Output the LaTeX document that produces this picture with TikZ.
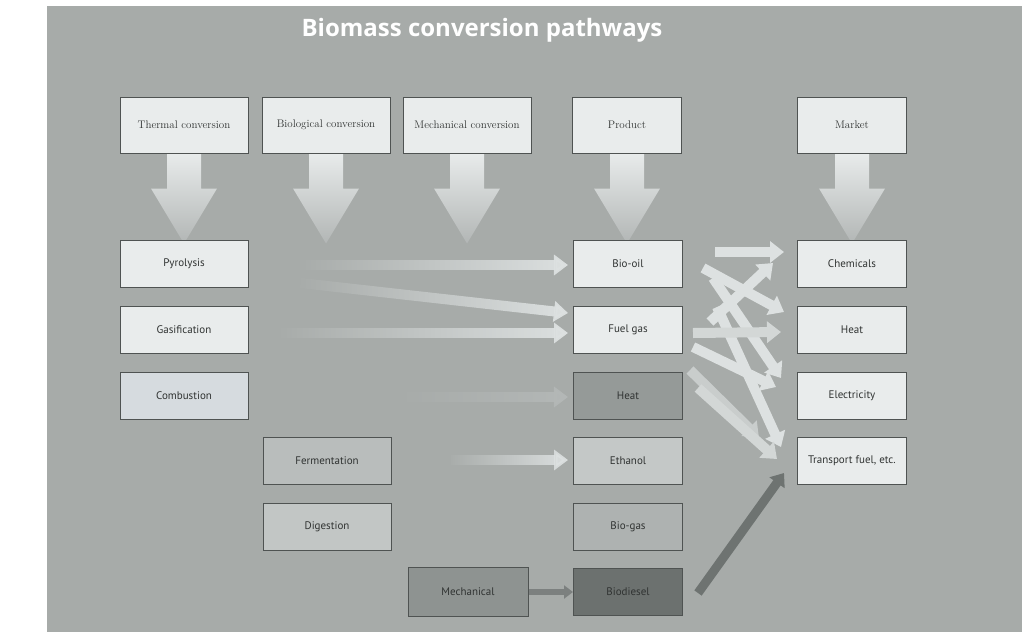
\documentclass[tikz,border=0pt]{standalone}
\usepackage{fontspec}
\setsansfont{PT Sans}
\newfontfamily\titlefont{Open Sans}
\usetikzlibrary{arrows.meta,calc,fadings}
\definecolor{panel}{HTML}{A7ABA9}
\definecolor{boxline}{HTML}{4F5352}
\definecolor{boxtext}{HTML}{303332}
\definecolor{light}{HTML}{E9ECEC}
\definecolor{lightblue}{HTML}{D6DBDF}
\definecolor{arrtop}{HTML}{E8EBEB}
\definecolor{arrbot}{HTML}{B2B6B5}
\definecolor{mklight}{HTML}{DDE1E1}
\definecolor{mkmid}{HTML}{D3D7D6}
\definecolor{mkdim}{HTML}{C9CDCC}
\definecolor{faint}{HTML}{B4B8B7}
\definecolor{darkarr}{HTML}{6E7371}
\definecolor{mecharr}{HTML}{7C807F}
\definecolor{fermfill}{HTML}{B9BDBC}
\definecolor{digefill}{HTML}{C2C6C5}
\definecolor{mechfill}{HTML}{8E9391}
\definecolor{heatfill}{HTML}{959A98}
\definecolor{ethfill}{HTML}{C4C8C7}
\definecolor{gasfill}{HTML}{AEB2B1}
\definecolor{dieselfill}{HTML}{6C716F}
\pgfdeclarelayer{bg}
\pgfsetlayers{bg,main}
\tikzfading[name=fadein, left color=transparent!100, right color=transparent!0]
\newcommand{\bigdn}[1]{%
  \shade[top color=arrtop, bottom color=arrbot] let \p1=(#1.south) in
    (\x1-17pt,\y1) -- (\x1+17pt,\y1) -- (\x1+17pt,\y1-35pt) -- (\x1+33pt,\y1-35pt)
    -- (\x1,\y1-90pt) -- (\x1-33pt,\y1-35pt) -- (\x1-17pt,\y1-35pt) -- cycle;}
\begin{document}
\begin{tikzpicture}[x=1pt,y=-1pt,
  box/.style={draw=boxline, line width=1pt, fill=light, text=boxtext,
    minimum height=47pt, inner sep=1pt, font=\sffamily\fontsize{11}{13}\selectfont},
  head/.style={box, minimum height=56pt, font=\rmfamily\fontsize{11}{13}\selectfont},
  wA/.style={minimum width=128pt},
  wP/.style={minimum width=109pt},
  flat/.style={line width=10pt, draw=mklight, -{Triangle[width=20pt,length=14pt]}, path fading=fadein},
  mk/.style={line width=10pt, draw=mklight, -{Triangle[width=21pt,length=14pt]}},
  dk/.style={line width=9pt, draw=darkarr, -{Triangle[width=18pt,length=12pt]}}
]
\useasboundingbox (0,0) rectangle (1030,640);
\begin{pgfonlayer}{bg}
\fill[white] (0,0) rectangle (1030,640);
\fill[panel] (47,6) rectangle (1022,632);
\end{pgfonlayer}

\node[font=\titlefont\bfseries\fontsize{24}{27}\selectfont, text=white] (title) at (482,30) {Biomass conversion pathways};

% header boxes
\node[head, wA] (thermal) at (184,125) {Thermal conversion};
\node[head, wA] (biol) at (326,125) {Biological conversion};
\node[head, wA] (mechc) at (467,125) {Mechanical conversion};
\node[head, wP] (product) at (627,125) {Product};
\node[head, wP] (market) at (852,125) {Market};

% process boxes
\node[box, wA] (pyro) at (184,264) {Pyrolysis};
\node[box, wA] (gasif) at (184,330) {Gasification};
\node[box, wA, fill=lightblue] (comb) at (184,396) {Combustion};
\node[box, wA, fill=fermfill] (ferm) at (327,461) {Fermentation};
\node[box, wA, fill=digefill] (dige) at (327,527) {Digestion};
\node[box, minimum width=120pt, minimum height=49pt, fill=mechfill] (mech) at (468,592) {Mechanical};

% product boxes
\node[box, wP] (biooil) at (628,264) {Bio-oil};
\node[box, wP] (fuelgas) at (628,330) {Fuel gas};
\node[box, wP, fill=heatfill] (heatp) at (628,396) {Heat};
\node[box, wP, fill=ethfill] (ethanol) at (628,461) {Ethanol};
\node[box, wP, fill=gasfill] (biogas) at (628,527) {Bio-gas};
\node[box, wP, fill=dieselfill] (biodiesel) at (628,592) {Biodiesel};

% market boxes
\node[box, wP] (chem) at (852,264) {Chemicals};
\node[box, wP] (heatm) at (852,330) {Heat};
\node[box, wP] (elec) at (852,396) {Electricity};
\node[box, wP] (transp) at (852,461) {Transport fuel, etc.};

% big down arrows
\begin{pgfonlayer}{bg}
\bigdn{thermal}
\bigdn{biol}
\bigdn{mechc}
\bigdn{product}
\bigdn{market}
\end{pgfonlayer}

% process -> product arrows
\draw[flat] ($(pyro.east)+(52,1)$) -- ($(biooil.west)+(-5,1)$);
\draw[flat] ($(pyro.east)+(52,19)$) -- ($(fuelgas.west)+(-5,-17)$);
\draw[flat] ($(gasif.east)+(32,3)$) -- ($(fuelgas.west)+(-5,3)$);
\draw[flat, draw=faint] ($(comb.east)+(150,1)$) -- ($(heatp.west)+(-5,1)$);
\draw[flat] ($(ferm.east)+(59,-1)$) -- ($(ethanol.west)+(-5,-1)$);
\draw[line width=6pt, draw=mecharr, -{Triangle[width=13pt,length=9pt]}] (mech.east) -- (biodiesel.west);

% product -> market arrows
\draw[mk] ($(fuelgas.east)+(34,-23)$) -- ($(transp.west)+(-16,-14)$);
\draw[mk, draw=mkdim] ($(heatp.east)+(7,-26)$) -- ($(transp.west)+(-38,-23)$);
\draw[mk, draw=mkmid] ($(heatp.east)+(15,-8)$) -- ($(transp.west)+(-20,-2)$);
\draw[mk] ($(fuelgas.east)+(10,17)$) -- ($(elec.west)+(-21,-9)$);
\draw[mk] ($(biooil.east)+(30,14)$) -- ($(elec.west)+(-16,-18)$);
\draw[mk, draw=mkmid] ($(fuelgas.east)+(10,3)$) -- ($(heatm.west)+(-16,2)$);
\draw[mk] ($(biooil.east)+(20,4)$) -- ($(heatm.west)+(-13,-18)$);
\draw[mk] ($(fuelgas.east)+(27,-8)$) -- ($(chem.west)+(-24,-1)$);
\draw[mk] ($(biooil.east)+(32,-12)$) -- ($(chem.west)+(-13,-12)$);
\draw[dk] ($(biodiesel.east)+(15,1)$) -- ($(transp.west)+(-13,12)$);
\end{tikzpicture}
\end{document}
